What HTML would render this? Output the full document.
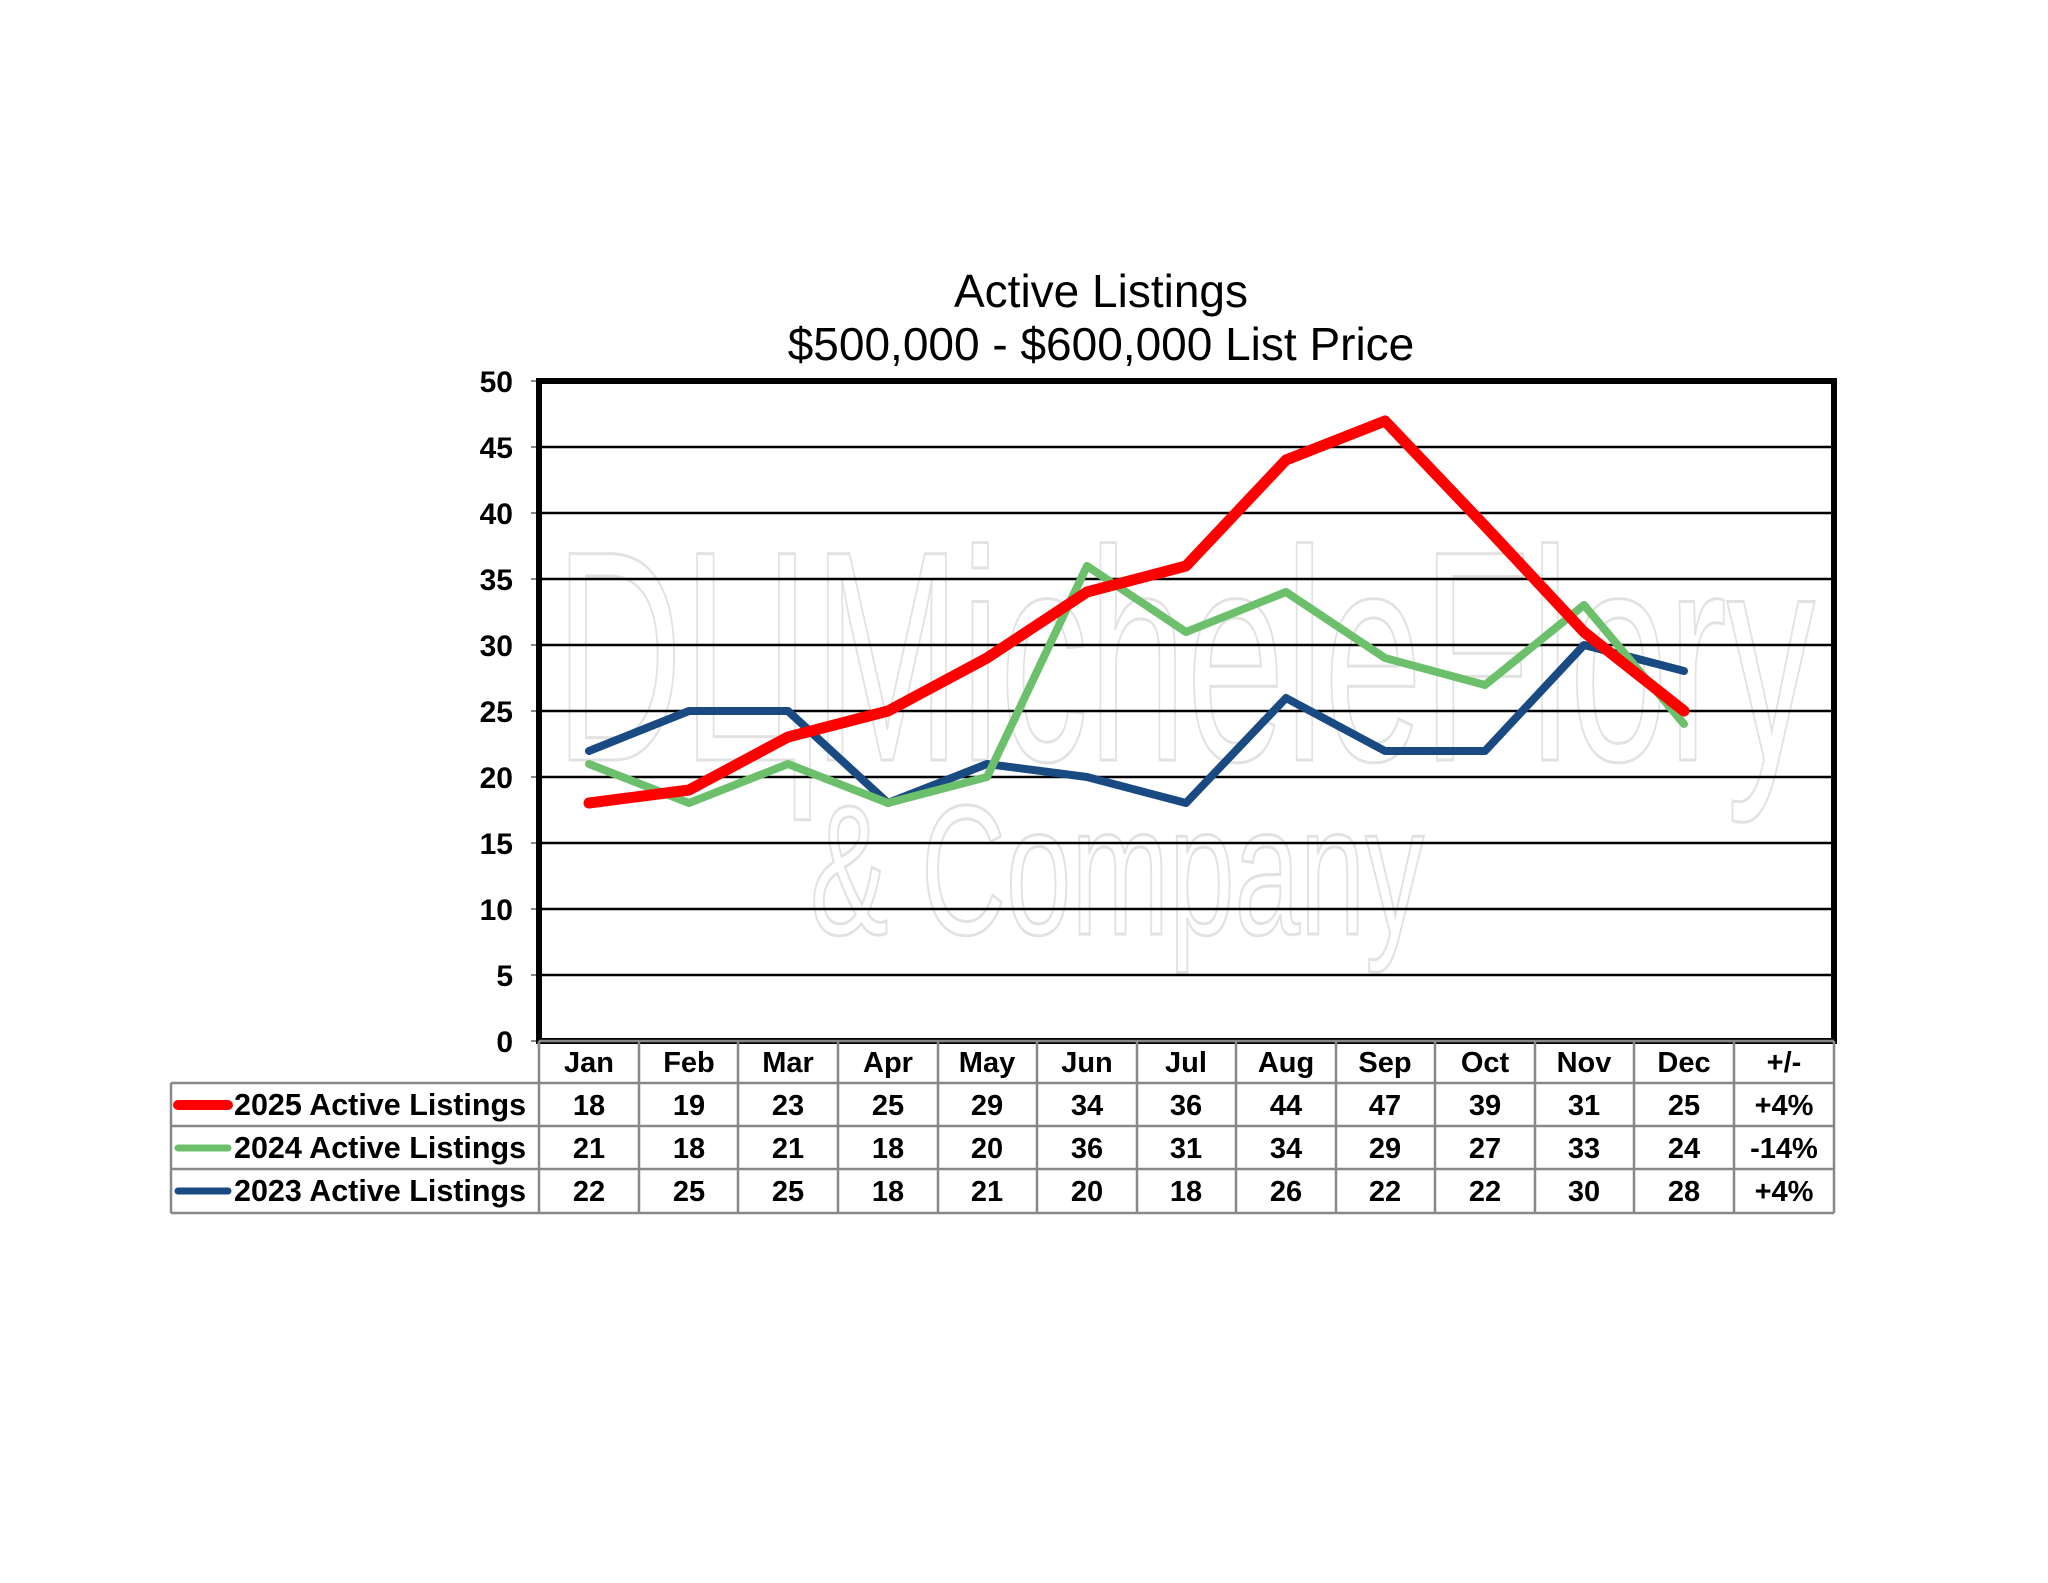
<!DOCTYPE html>
<html><head><meta charset="utf-8"><style>
html,body{margin:0;padding:0;background:#fff;}
svg{display:block}
text{font-family:"Liberation Sans",Arial,sans-serif;}
</style></head><body>
<svg width="2048" height="1583" viewBox="0 0 2048 1583" xmlns="http://www.w3.org/2000/svg">
<rect width="2048" height="1583" fill="#fff"/>
<!-- watermark -->
<g fill="none" stroke="#e2e2e2" stroke-width="3">
<text x="555" y="760" font-size="300" textLength="1260" lengthAdjust="spacingAndGlyphs">DЦMicheleFlory</text>
<text x="810" y="934" font-size="185" textLength="614" lengthAdjust="spacingAndGlyphs">&amp; Company</text>
</g>
<text x="1101" y="307" font-size="46" text-anchor="middle">Active Listings</text>
<text x="1101" y="360" font-size="46" text-anchor="middle">$500,000 - $600,000 List Price</text>
<!-- gridlines -->
<g stroke="#000" stroke-width="2.5">
<line x1="539" x2="1834" y1="975" y2="975"/>
<line x1="539" x2="1834" y1="909" y2="909"/>
<line x1="539" x2="1834" y1="843" y2="843"/>
<line x1="539" x2="1834" y1="777" y2="777"/>
<line x1="539" x2="1834" y1="711" y2="711"/>
<line x1="539" x2="1834" y1="645" y2="645"/>
<line x1="539" x2="1834" y1="579" y2="579"/>
<line x1="539" x2="1834" y1="513" y2="513"/>
<line x1="539" x2="1834" y1="447" y2="447"/>
</g>
<g stroke="#888" stroke-width="2">
<line x1="531" x2="539" y1="381" y2="381"/><line x1="531" x2="539" y1="447" y2="447"/><line x1="531" x2="539" y1="513" y2="513"/><line x1="531" x2="539" y1="579" y2="579"/><line x1="531" x2="539" y1="645" y2="645"/><line x1="531" x2="539" y1="711" y2="711"/><line x1="531" x2="539" y1="777" y2="777"/><line x1="531" x2="539" y1="843" y2="843"/><line x1="531" x2="539" y1="909" y2="909"/><line x1="531" x2="539" y1="975" y2="975"/><line x1="531" x2="539" y1="1041" y2="1041"/>
</g>
<rect x="539" y="381" width="1295" height="660" fill="none" stroke="#000" stroke-width="6"/>
<g font-size="30" font-weight="bold" text-anchor="end">
<text x="513" y="392">50</text><text x="513" y="458">45</text><text x="513" y="524">40</text><text x="513" y="590">35</text><text x="513" y="656">30</text><text x="513" y="722">25</text><text x="513" y="788">20</text><text x="513" y="854">15</text><text x="513" y="920">10</text><text x="513" y="986">5</text><text x="513" y="1052">0</text>
</g>
<!-- series -->
<polyline fill="none" stroke="#1a4a82" stroke-width="8" stroke-linejoin="round" stroke-linecap="round" points="589,751 689,711 788,711 888,803 987,764 1087,777 1186,803 1286,698 1385,751 1485,751 1584,645 1684,671"/>
<polyline fill="none" stroke="#6cc06c" stroke-width="8" stroke-linejoin="round" stroke-linecap="round" points="589,764 689,803 788,764 888,803 987,777 1087,566 1186,632 1286,592 1385,658 1485,685 1584,605 1684,724"/>
<polyline fill="none" stroke="#ff0000" stroke-width="11" stroke-linejoin="round" stroke-linecap="round" points="589,803 689,790 788,737 888,711 987,658 1087,592 1186,566 1286,460 1385,421 1485,526 1584,632 1684,711"/>
<!-- table -->
<g stroke="#888" stroke-width="2.5" fill="none">
<line x1="539" x2="1834" y1="1041" y2="1041"/>
<line x1="171" x2="1834" y1="1083" y2="1083"/>
<line x1="171" x2="1834" y1="1126" y2="1126"/>
<line x1="171" x2="1834" y1="1169" y2="1169"/>
<line x1="171" x2="1834" y1="1213" y2="1213"/>
<line x1="171" x2="171" y1="1083" y2="1213"/>
<line x1="539" x2="539" y1="1041" y2="1213"/>
<line x1="639" x2="639" y1="1041" y2="1213"/><line x1="738" x2="738" y1="1041" y2="1213"/><line x1="838" x2="838" y1="1041" y2="1213"/><line x1="938" x2="938" y1="1041" y2="1213"/><line x1="1037" x2="1037" y1="1041" y2="1213"/><line x1="1137" x2="1137" y1="1041" y2="1213"/><line x1="1236" x2="1236" y1="1041" y2="1213"/><line x1="1336" x2="1336" y1="1041" y2="1213"/><line x1="1435" x2="1435" y1="1041" y2="1213"/><line x1="1535" x2="1535" y1="1041" y2="1213"/><line x1="1634" x2="1634" y1="1041" y2="1213"/><line x1="1734" x2="1734" y1="1041" y2="1213"/><line x1="1834" x2="1834" y1="1041" y2="1213"/>
</g>
<g stroke-linecap="round">
<line x1="178" x2="228" y1="1105" y2="1105" stroke="#ff0000" stroke-width="10"/>
<line x1="178" x2="228" y1="1148" y2="1148" stroke="#6cc06c" stroke-width="7"/>
<line x1="178" x2="228" y1="1191" y2="1191" stroke="#1a4a82" stroke-width="7"/>
</g>
<g font-size="30.5" font-weight="bold">
<text x="234" y="1115">2025 Active Listings</text>
<text x="234" y="1158">2024 Active Listings</text>
<text x="234" y="1201">2023 Active Listings</text>
</g>
<g font-size="29" font-weight="bold" text-anchor="middle">
<text x="589" y="1072">Jan</text><text x="689" y="1072">Feb</text><text x="788" y="1072">Mar</text><text x="888" y="1072">Apr</text><text x="987" y="1072">May</text><text x="1087" y="1072">Jun</text><text x="1186" y="1072">Jul</text><text x="1286" y="1072">Aug</text><text x="1385" y="1072">Sep</text><text x="1485" y="1072">Oct</text><text x="1584" y="1072">Nov</text><text x="1684" y="1072">Dec</text><text x="1784" y="1072">+/-</text>
<text x="589" y="1115">18</text><text x="689" y="1115">19</text><text x="788" y="1115">23</text><text x="888" y="1115">25</text><text x="987" y="1115">29</text><text x="1087" y="1115">34</text><text x="1186" y="1115">36</text><text x="1286" y="1115">44</text><text x="1385" y="1115">47</text><text x="1485" y="1115">39</text><text x="1584" y="1115">31</text><text x="1684" y="1115">25</text><text x="1784" y="1115">+4%</text>
<text x="589" y="1158">21</text><text x="689" y="1158">18</text><text x="788" y="1158">21</text><text x="888" y="1158">18</text><text x="987" y="1158">20</text><text x="1087" y="1158">36</text><text x="1186" y="1158">31</text><text x="1286" y="1158">34</text><text x="1385" y="1158">29</text><text x="1485" y="1158">27</text><text x="1584" y="1158">33</text><text x="1684" y="1158">24</text><text x="1784" y="1158">-14%</text>
<text x="589" y="1201">22</text><text x="689" y="1201">25</text><text x="788" y="1201">25</text><text x="888" y="1201">18</text><text x="987" y="1201">21</text><text x="1087" y="1201">20</text><text x="1186" y="1201">18</text><text x="1286" y="1201">26</text><text x="1385" y="1201">22</text><text x="1485" y="1201">22</text><text x="1584" y="1201">30</text><text x="1684" y="1201">28</text><text x="1784" y="1201">+4%</text>
</g>
</svg>
</body></html>
